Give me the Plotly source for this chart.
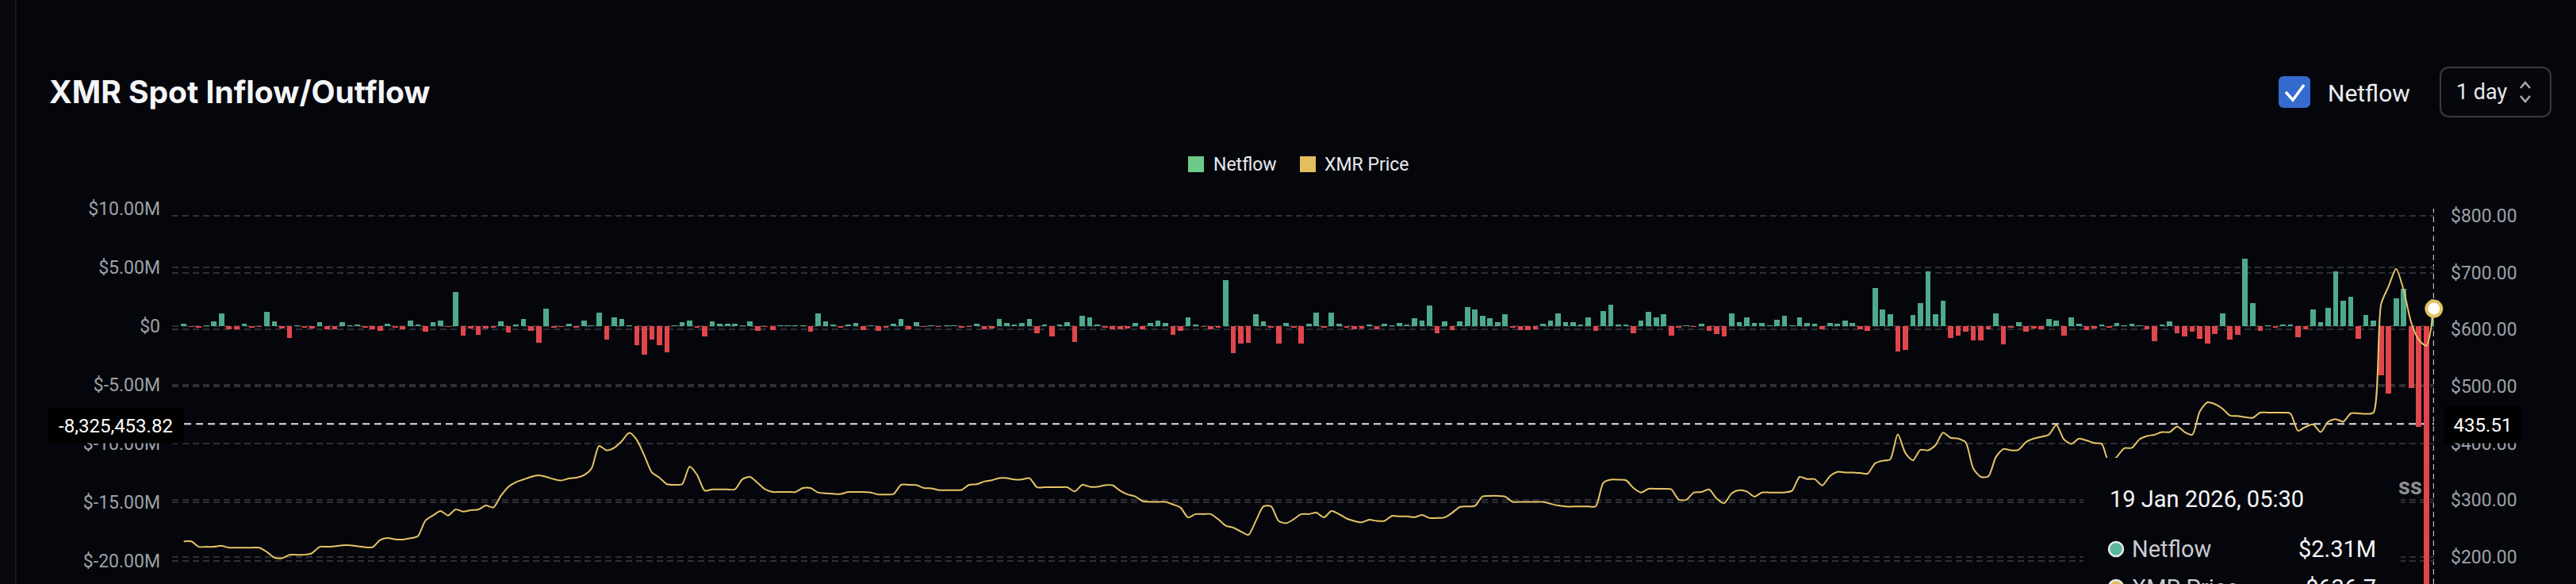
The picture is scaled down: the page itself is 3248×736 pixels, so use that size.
import pandas as pd
import plotly.graph_objects as go

# ---------------- data ----------------
start_date = "2025-03-27"
end_date = "2026-01-19"

netflow_m = [
    0.2, -0.05, -0.15, 0.02, 0.38, 1.1, -0.3, -0.28, 0.18, -0.07,
    -0.03, 1.22, 0.4, -0.18, -1.0, 0.01, -0.07, -0.2, 0.35, -0.27,
    -0.27, 0.32, 0.02, 0.12, -0.07, -0.3, -0.42, 0.22, -0.08, -0.3,
    0.45, 0.1, -0.47, 0.35, 0.5, -0.05, 2.93, -0.8, -0.2, -0.75,
    -0.2, -0.07, 0.38, -0.55, 0.15, 0.58, -0.38, -1.4, 1.46, -0.12,
    -0.03, 0.22, -0.07, 0.45, 0.01, 1.13, -1.17, 0.72, 0.6, 0.01,
    -1.6, -2.4, -1.15, -1.65, -2.25, 0.01, 0.33, 0.5, -0.07, -0.9,
    0.4, 0.2, 0.2, 0.18, 0.01, 0.38, -0.42, -0.02, -0.32, 0.01,
    0.01, 0.01, 0.01, -0.48, 1.08, 0.38, 0.12, -0.1, 0.12, 0.27,
    -0.35, 0.01, -0.43, -0.12, 0.2, 0.6, -0.25, 0.33, -0.05, 0.05,
    -0.03, 0.01, 0.01, -0.1, -0.05, 0.18, -0.28, -0.18, 0.63, 0.28,
    0.12, 0.24, 0.62, -0.62, 0.15, -0.88, 0.1, 0.35, -1.35, 0.9,
    0.72, 0.15, -0.12, -0.3, -0.3, -0.22, 0.3, -0.28, 0.24, 0.5,
    0.28, -0.75, -0.42, 0.72, 0.15, -0.03, -0.3, -0.07, 3.92, -2.3,
    -1.5, -1.45, 1.0, 0.4, -0.16, -1.5, 0.24, -0.1, -1.47, 0.2,
    1.15, -0.07, 1.15, 0.2, -0.12, -0.25, -0.2, 0.12, -0.28, 0.2,
    0.01, 0.27, 0.12, 0.7, 0.47, 1.73, -0.63, 0.38, -0.35, 0.4,
    1.62, 1.42, 0.9, 0.65, 0.32, 1.0, -0.1, -0.32, -0.32, -0.3,
    0.2, 0.45, 1.08, 0.36, 0.36, 0.12, 0.72, -0.43, 1.27, 1.8,
    0.14, 0.12, -0.6, 0.47, 1.25, 0.72, 1.03, -0.8, -0.1, 0.01,
    -0.04, 0.18, -0.38, -0.65, -0.85, 1.08, 0.33, 0.72, 0.3, 0.3,
    0.01, 0.55, 0.9, 0.01, 0.72, 0.24, 0.2, -0.28, 0.24, 0.22,
    0.47, 0.3, -0.28, -0.43, 3.24, 1.44, 1.0, -2.15, -2.0, 0.97,
    1.96, 4.64, 1.03, 2.16, -1.0, -0.83, -0.45, -1.22, -1.2, -0.28,
    1.06, -1.53, -0.07, 0.36, -0.5, -0.2, -0.3, 0.6, 0.5, -0.8,
    0.72, 0.2, -0.33, -0.22, 0.1, -0.12, 0.3, 0.01, 0.2, 0.05,
    -0.25, -1.3, 0.12, 0.4, -0.58, -0.88, -0.5, -1.05, -1.5, -0.7,
    1.1, -1.13, -0.75, 5.72, 1.96, -0.42, 0.01, -0.1, 0.08, 0.08,
    -0.95, -0.28, 1.44, 0.36, 1.58, 4.66, 2.14, 2.5, -1.05, 0.93,
    0.5, -4.17, -5.77, 2.36, 3.15, -5.3, -8.55, -25.0, 2.31,
]

xmr_price = [
    227.5, 227.5, 218, 218, 218, 219.7, 216.5, 216.5, 216.5, 216.5,
    216.5, 209, 199, 198, 203.7, 204, 204, 207, 218, 218,
    219, 220.6, 220.6, 219, 217.4, 217.4, 229.7, 233.4, 231, 230.7,
    233, 236.6, 264, 273, 281, 273, 283.8, 280, 282.4, 283.3,
    290.6, 287, 307.5, 323.6, 331.8, 336.4, 341, 343.7, 341, 337,
    334.6, 338, 339.6, 344, 355.6, 395.4, 387.6, 392, 403.7, 418.3,
    406, 378.5, 348.7, 339.6, 328, 327, 328, 359, 344, 316.7,
    319, 319, 319, 319, 337, 341, 330.4, 319, 314.4, 314.4,
    314.4, 314.4, 321.3, 321.3, 313.5, 312, 311.2, 310.8, 314.4, 314.4,
    314.4, 313.5, 310, 310, 310.8, 327, 327, 326.5, 321.3, 320.8,
    317.6, 317.6, 317.6, 318, 327, 328, 332.7, 335, 338.7, 338.7,
    336.4, 336.4, 338.7, 322.7, 322.7, 322.7, 322.7, 322.7, 315.3, 327,
    323.6, 323.6, 326.3, 326.3, 316.7, 310, 306.6, 298.4, 297, 297,
    297, 292.5, 287, 269.6, 275.5, 275.5, 275.5, 266.4, 255, 251.7,
    244.9, 239, 264, 289, 289, 263.4, 259.5, 266.4, 275.5, 275.5,
    278, 269.6, 281, 275.5, 267.7, 263.4, 261, 265.5, 263.4, 263.4,
    272.3, 271.4, 271.4, 270, 274, 268.6, 268.6, 269.6, 278, 287.9,
    289, 289.7, 306.6, 307.5, 307.5, 306.2, 297, 297, 297, 297,
    297, 293.8, 290.6, 288.8, 288.8, 288.8, 288.8, 289, 330.4, 336,
    336, 335, 321.3, 313.5, 320, 320, 320, 319, 300.7, 300.7,
    313.5, 314.4, 319, 303, 294.7, 312, 317.6, 315.3, 306.2, 313.5,
    313.5, 313.5, 313.5, 316.7, 341, 337, 337, 326, 342, 349.7,
    348.7, 348.7, 347.8, 346.5, 364.8, 369.3, 371.6, 416, 383, 370,
    388.6, 387.6, 396.8, 418.8, 409.6, 408.2, 401.4, 355.6, 341, 342,
    376, 390, 387.6, 388.6, 402.3, 408.2, 411.4, 415, 432.5, 406.9,
    399, 408.2, 405, 400.5, 399, 366, 376, 391.3, 392, 406.9,
    412.8, 415, 419.7, 419.7, 429.7, 419.7, 415, 456, 472, 469,
    461, 449, 448, 445.8, 444.9, 454, 454, 454, 454, 452.6,
    422, 428.8, 433.4, 419.7, 438, 442.6, 438, 452.6, 452.6, 451.7,
    454, 644, 676, 707, 669, 612, 582, 571.6, 636.7,
]

left_tick_vals = [10, 5, 0, -5, -10, -15, -20]
left_tick_text = ["$10.00M", "$5.00M", "$0", "$-5.00M", "$-10.00M", "$-15.00M", "$-20.00M"]
right_tick_vals = [800, 700, 600, 500, 400, 300, 200]
right_tick_text = ["$800.00", "$700.00", "$600.00", "$500.00", "$400.00", "$300.00", "$200.00"]

cross_netflow = -8325453.82
cross_price = 435.51
tip_date = "19 Jan 2026, 05:30"
tip_netflow = "$2.31M"
tip_price = "$636.7"

# ---------------- layout helpers ----------------
W, H = 3248, 736
L, R, T, B = 217, 3069, 263, 736
BG = "#05060b"
FONT = "Roboto"


def px(x):
    return (x - L) / (R - L)


def py(y):
    return (B - y) / (B - T)


def rrect(x0, y0, x1, y1, r):
    X, Y = px, py
    return (f"M {X(x0 + r)},{Y(y0)} L {X(x1 - r)},{Y(y0)} Q {X(x1)},{Y(y0)} {X(x1)},{Y(y0 + r)} "
            f"L {X(x1)},{Y(y1 - r)} Q {X(x1)},{Y(y1)} {X(x1 - r)},{Y(y1)} "
            f"L {X(x0 + r)},{Y(y1)} Q {X(x0)},{Y(y1)} {X(x0)},{Y(y1 - r)} "
            f"L {X(x0)},{Y(y0 + r)} Q {X(x0)},{Y(y0)} {X(x0 + r)},{Y(y0)} Z")


def polyline(pts):
    return "M " + " L ".join(f"{px(x)},{py(y)}" for x, y in pts)


dates = pd.date_range(start_date, end_date, freq="D")
assert len(dates) == len(netflow_m) == len(xmr_price)
netflow = [v * 1e6 for v in netflow_m]
bar_colors = ["#4fa98c" if v >= 0 else "#e0464c" for v in netflow]

fig = go.Figure()
fig.add_trace(go.Bar(
    x=dates, y=netflow, marker=dict(color=bar_colors, line=dict(width=0)),
    width=0.7 * 86400000, name="Netflow", yaxis="y",
))
fig.add_trace(go.Scatter(
    x=dates, y=xmr_price, mode="lines", name="XMR Price", yaxis="y2",
    line=dict(color="#e6c466", width=2, shape="spline", smoothing=0.7),
))
fig.add_trace(go.Scatter(
    x=[dates[-1]], y=[xmr_price[-1]], mode="markers", yaxis="y2", cliponaxis=False,
    marker=dict(size=19, color="#ffffff", line=dict(color="#e5c160", width=4)),
    showlegend=False,
))

x_lo = dates[0] - pd.Timedelta(days=1.544)
x_hi = dates[-1] + pd.Timedelta(days=0.02)

grid = dict(showgrid=True, gridcolor="#2e3036", gridwidth=1.5, griddash="8px,5px")

fig.update_layout(
    width=W, height=H,
    margin=dict(l=L, r=W - R, t=T, b=H - B, pad=0),
    paper_bgcolor=BG, plot_bgcolor=BG,
    showlegend=False, hovermode=False,
    bargap=0,
    xaxis=dict(range=[x_lo, x_hi], showgrid=False, zeroline=False, showticklabels=False,
               showline=False, ticks=""),
    yaxis=dict(range=[(10 - (B - T) / 14.8) * 1e6, 10e6], tickvals=[v * 1e6 for v in left_tick_vals],
               ticktext=left_tick_text, zeroline=False, showline=False, ticks="",
               tickfont=dict(family=FONT, size=23, color="#9da0a8"), ticklabelstandoff=14,
               automargin=False, **grid),
    yaxis2=dict(range=[200 - (B - 702) / 0.7167, 800 + (272 - T) / 0.7167], overlaying="y",
                side="right", tickvals=right_tick_vals, ticktext=right_tick_text,
                zeroline=False, showline=False, ticks="",
                tickfont=dict(family=FONT, size=23, color="#9da0a8"), ticklabelstandoff=20,
                automargin=False, **grid),
)

shapes = []
ann = []

# left panel strip
shapes.append(dict(type="rect", xref="paper", yref="paper", x0=px(0), x1=px(20), y0=py(H), y1=py(0),
                   fillcolor="#090a0f", line=dict(width=0), layer="below"))
shapes.append(dict(type="line", xref="paper", yref="paper", x0=px(20), x1=px(20), y0=py(H), y1=py(0),
                   line=dict(color="#1d1e23", width=1.5), layer="below"))

# crosshair
shapes.append(dict(type="line", xref="x", yref="paper", x0=dates[-1], x1=dates[-1], y0=0, y1=1,
                   line=dict(color="#b9bbc0", width=2, dash="7px,5px"), layer="below"))
shapes.append(dict(type="line", xref="paper", yref="y", x0=0, x1=1, y0=cross_netflow, y1=cross_netflow,
                   line=dict(color="#e2e3e6", width=2, dash="9px,6px"), layer="below"))

# tooltip box (covers chart below it)
shapes.append(dict(type="rect", xref="paper", yref="paper", x0=px(2627), x1=px(3027), y0=py(745), y1=py(577),
                   fillcolor=BG, line=dict(width=0), layer="above"))
shapes.append(dict(type="circle", xref="paper", yref="paper", x0=px(2659), x1=px(2677), y0=py(701), y1=py(683),
                   fillcolor="#5bb89a", line=dict(color="#e6e8ea", width=2.5), layer="above"))
shapes.append(dict(type="circle", xref="paper", yref="paper", x0=px(2659), x1=px(2677), y0=py(749), y1=py(731),
                   fillcolor="#e2bd5c", line=dict(color="#e6e8ea", width=2.5), layer="above"))

# legend squares
shapes.append(dict(type="rect", xref="paper", yref="paper", x0=px(1498), x1=px(1518), y0=py(217), y1=py(197),
                   fillcolor="#6ccb8a", line=dict(width=0)))
shapes.append(dict(type="rect", xref="paper", yref="paper", x0=px(1639), x1=px(1659), y0=py(217), y1=py(197),
                   fillcolor="#e2be60", line=dict(width=0)))

# checkbox
shapes.append(dict(type="path", xref="paper", yref="paper", path=rrect(2873, 96, 2913, 136, 7),
                   fillcolor="#356bcf", line=dict(width=0)))
shapes.append(dict(type="path", xref="paper", yref="paper",
                   path=polyline([(2882, 116), (2891, 126), (2905, 107)]),
                   line=dict(color="#ffffff", width=3.5)))
# dropdown
shapes.append(dict(type="path", xref="paper", yref="paper", path=rrect(3077, 85, 3216, 147, 12),
                   fillcolor="#06070c", line=dict(color="#3a3b41", width=2)))
shapes.append(dict(type="path", xref="paper", yref="paper",
                   path=polyline([(3178, 111), (3184, 104), (3190, 111)]),
                   line=dict(color="#a9abb0", width=2.5)))
shapes.append(dict(type="path", xref="paper", yref="paper",
                   path=polyline([(3178, 121), (3184, 128), (3190, 121)]),
                   line=dict(color="#a9abb0", width=2.5)))


def text(x, y, s, size, color, anchor="left", bold=False, family=FONT, **kw):
    ann.append(dict(xref="paper", yref="paper", x=px(x), y=py(y), text=(f"<b>{s}</b>" if bold else s),
                    showarrow=False, xanchor=anchor, yanchor="middle",
                    font=dict(family=family, size=size, color=color), **kw))


text(60, 115, "XMR Spot Inflow/Outflow", 39, "#f4f5f7", bold=True, family="Inter")
text(2933, 117, "Netflow", 30, "#eceef2")
text(3095, 116, "1 day", 27, "#e4e6ea")
text(1528, 207, "Netflow", 23, "#e8eaee")
text(1668, 207, "XMR Price", 23, "#e8eaee")

# crosshair axis labels
ann.append(dict(xref="paper", yref="paper", x=px(232), y=py(536.5), xanchor="right", yanchor="middle",
                text=f"{cross_netflow:,.2f}",
                showarrow=False, bgcolor="#000000", borderpad=4, width=162, height=35, align="center",
                font=dict(family=FONT, size=24, color="#ffffff")))
ann.append(dict(xref="paper", yref="paper", x=px(3082), y=py(535.5), xanchor="left", yanchor="middle",
                text=f"{cross_price:.2f}", showarrow=False, bgcolor="#000000", borderpad=4,
                width=87, height=37, align="center", font=dict(family=FONT, size=24, color="#ffffff")))

# partially hidden text to the right of tooltip
text(3056, 613, "ss", 29, "#8b8d93", anchor="right", bold=True)

# tooltip contents
text(2658, 629, tip_date, 29, "#f5f6f8")
text(2686, 692, "Netflow", 29, "#c8cbd2")
text(2998, 692, tip_netflow, 29, "#f5f6f8", anchor="right")
text(2686, 741, "XMR Price", 29, "#c8cbd2")
text(2998, 741, tip_price, 29, "#f5f6f8", anchor="right")

fig.update_layout(shapes=shapes, annotations=ann)
fig.write_html(
    "out.html",
    config={"displayModeBar": False},
    post_script="document.body.style.margin='0';document.body.style.padding='0';"
                "document.body.style.background='" + BG + "';document.body.style.overflow='hidden';",
)
